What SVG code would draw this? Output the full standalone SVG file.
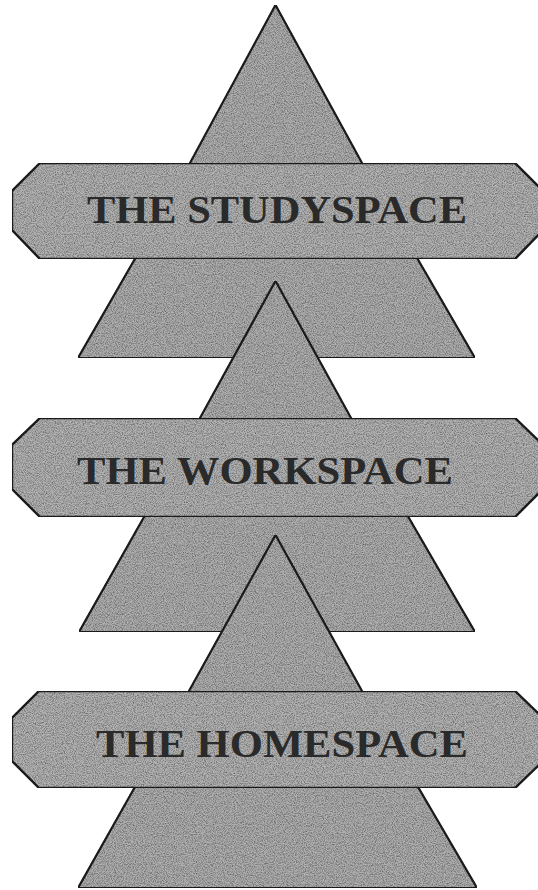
<svg xmlns="http://www.w3.org/2000/svg" width="538" height="890" viewBox="0 0 538 890">
  <defs>
    <filter id="grain" x="0" y="0" width="1" height="1" color-interpolation-filters="sRGB">
      <feTurbulence type="fractalNoise" baseFrequency="0.9" numOctaves="2" seed="7" result="noise"/>
      <feColorMatrix in="noise" type="matrix" values="0 0 0 0 0  0 0 0 0 0  0 0 0 0 0  0.9 0 0 0 -0.34" result="speck"/>
      <feComposite in="speck" in2="SourceGraphic" operator="in" result="tex"/>
      <feMerge><feMergeNode in="SourceGraphic"/><feMergeNode in="tex"/></feMerge>
    </filter>
  </defs>
  <style>
    .tri { fill: #afafaf; stroke: #1e1e1e; stroke-width: 2.2; stroke-linejoin: miter; filter: url(#grain); }
    .ban { fill: #b3b3b3; stroke: #1e1e1e; stroke-width: 2.4; stroke-linejoin: miter; filter: url(#grain); }
    .lbl { font-family: "Liberation Serif", "Times New Roman", serif; font-weight: bold; fill: #2a2a2a; text-anchor: start; }
  </style>
  <rect width="538" height="890" fill="#ffffff"/>

  <g id="tri-study">
    <polygon class="tri" points="275.5,5 362,163 475,358 78,358 190,163"/>
  </g>
  <g id="banner-study">
    <polygon class="ban" points="40,163 515,163 543,191 543,230 515,259 40,259 12,230 12,191"/>
    <text class="lbl" x="87" y="223" font-size="39" textLength="380" lengthAdjust="spacingAndGlyphs">THE STUDYSPACE</text>
  </g>

  <g id="tri-work">
    <polygon class="tri" points="275.5,281 351,418 475,632 79,632 200,418"/>
  </g>
  <g id="banner-work">
    <polygon class="ban" points="40,418 515,418 543,445 543,489 515,517 40,517 12,489 12,445"/>
    <text class="lbl" x="77" y="484" font-size="41" textLength="376" lengthAdjust="spacingAndGlyphs">THE WORKSPACE</text>
  </g>

  <g id="tri-home">
    <polygon class="tri" points="275.5,535 362,691 477,888 78,888 189,691"/>
  </g>
  <g id="banner-home">
    <polygon class="ban" points="39,691 515,691 543,718 543,761 515,788 39,788 12,761 12,718"/>
    <text class="lbl" x="96" y="757" font-size="41" textLength="372" lengthAdjust="spacingAndGlyphs">THE HOMESPACE</text>
  </g>
</svg>
